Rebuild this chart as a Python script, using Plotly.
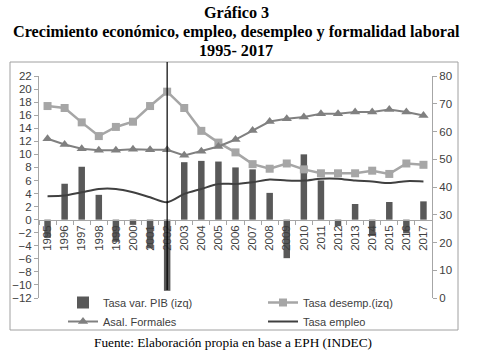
import plotly.graph_objects as go

years = [str(y) for y in range(1995, 2018)]
pib = [-2.8, 5.5, 8.1, 3.8, -3.4, -0.8, -4.4, -10.9, 8.8, 9.0, 8.9, 8.0, 7.7, 4.1,
       -5.9, 10.0, 6.0, -1.0, 2.4, -2.5, 2.7, -2.1, 2.8]
desemp = [17.4, 17.1, 14.9, 12.8, 14.2, 15.0, 17.4, 19.6, 17.1, 13.6, 11.8, 10.3,
          8.5, 7.8, 8.6, 7.7, 7.1, 7.1, 7.1, 7.5, 7.0, 8.6, 8.4]
formales = [57.4, 55.3, 53.8, 53.2, 53.2, 53.6, 53.4, 53.4, 51.4, 52.9, 54.6, 57.1,
            60.4, 63.6, 64.6, 65.2, 66.4, 66.4, 67.0, 67.0, 67.9, 67.0, 65.8]
empleo = [36.7, 36.9, 38.1, 39.3, 39.3, 38.1, 36.3, 34.5, 37.5, 39.3, 41.1, 41.1,
          41.7, 42.7, 42.3, 42.3, 43.0, 43.0, 42.3, 42.0, 41.4, 42.1, 42.0]
left_ticks = list(range(-12, 23, 2))
right_ticks = list(range(0, 81, 10))
marked_year = "2002"

W, H = 480, 351
L, R, T, B = 39, 48, 76, 53
PW, PH = W - L - R, H - T - B


def px(xp):
    return (xp - L) / PW


def py(yp):
    return (H - B - yp) / PH


axis_font = dict(family="Liberation Sans, Arial", size=11.5, color="#404040")
leg_font = dict(family="Liberation Sans, Arial", size=11, color="#404040")

fig = go.Figure()
fig.add_trace(go.Bar(x=years, y=pib, name="Tasa var. PIB (izq)", legend="legend",
                     marker=dict(color="#595959", line=dict(width=0)), yaxis="y"))
fig.add_trace(go.Scatter(x=years, y=desemp, name="Tasa desemp.(izq)", mode="lines+markers",
                         legend="legend2",
                         line=dict(color="#a6a6a6", width=2.5),
                         marker=dict(symbol="square", size=8, color="#a6a6a6"), yaxis="y"))
fig.add_trace(go.Scatter(x=years, y=formales, name="Asal. Formales", mode="lines+markers",
                         legend="legend",
                         line=dict(color="#808080", width=2),
                         marker=dict(symbol="triangle-up", size=9, color="#808080"), yaxis="y2"))
fig.add_trace(go.Scatter(x=years, y=empleo, name="Tasa empleo", mode="lines",
                         legend="legend2",
                         line=dict(color="#404040", width=2, shape="spline", smoothing=0.8),
                         yaxis="y2"))

leg_common = dict(orientation="v", xanchor="left", yanchor="top", font=leg_font,
                  bgcolor="rgba(0,0,0,0)", itemwidth=30, tracegroupgap=0)

fig.update_layout(
    width=W, height=H,
    margin=dict(l=L, r=R, t=T, b=B, autoexpand=False),
    paper_bgcolor="white", plot_bgcolor="white",
    bargap=0.62,
    showlegend=True,
    legend=dict(x=px(63), y=py(288), **leg_common),
    legend2=dict(x=px(263), y=py(288), **leg_common),
    xaxis=dict(type="category", anchor="free", position=12 / 34,
               range=[-0.5, len(years) - 0.5], autorange=False,
               showline=True, linecolor="#a6a6a6", linewidth=1,
               ticks="outside", ticklen=4, tickcolor="#a6a6a6", tickson="boundaries",
               tickangle=-90, tickfont=axis_font, showgrid=False, zeroline=False),
    yaxis=dict(range=[-12, 22], tickvals=left_ticks, showline=True, linecolor="#a6a6a6",
               ticks="outside", ticklen=4, tickcolor="#a6a6a6", tickfont=axis_font,
               showgrid=False, zeroline=False),
    yaxis2=dict(range=[0, 80], tickvals=right_ticks, overlaying="y", side="right",
                anchor="x", showline=True, linecolor="#a6a6a6",
                ticks="outside", ticklen=4, tickcolor="#a6a6a6", tickfont=axis_font,
                showgrid=False, zeroline=False),
)

# frame around the chart
fig.add_shape(type="rect", xref="paper", yref="paper",
              x0=px(10), x1=px(458), y0=py(330), y1=py(62),
              line=dict(color="#a0a0a0", width=1), fillcolor="rgba(0,0,0,0)", layer="below")
# vertical marker line at 2002
mi = years.index(marked_year)
fig.add_shape(type="line", xref="x", yref="paper", x0=mi, x1=mi,
              y0=py(290), y1=py(62), line=dict(color="black", width=1.2))

title_font = dict(family="Liberation Serif, Times New Roman", size=16.2, color="black")
for txt, ypx in [("<b>Gráfico 3</b>", 13),
                 ("<b>Crecimiento económico, empleo, desempleo y formalidad laboral</b>", 32),
                 ("<b>1995- 2017</b>", 51)]:
    fig.add_annotation(text=txt, xref="paper", yref="paper", x=px(236),
                       y=py(ypx), xanchor="center", yanchor="middle",
                       showarrow=False, font=title_font)
fig.add_annotation(text="Fuente: Elaboración propia en base a EPH (INDEC)", xref="paper", yref="paper",
                   x=px(233), y=py(342), xanchor="center", yanchor="middle",
                   showarrow=False,
                   font=dict(family="Liberation Serif, Times New Roman", size=13.3, color="black"))

fig.write_html("out.html")
